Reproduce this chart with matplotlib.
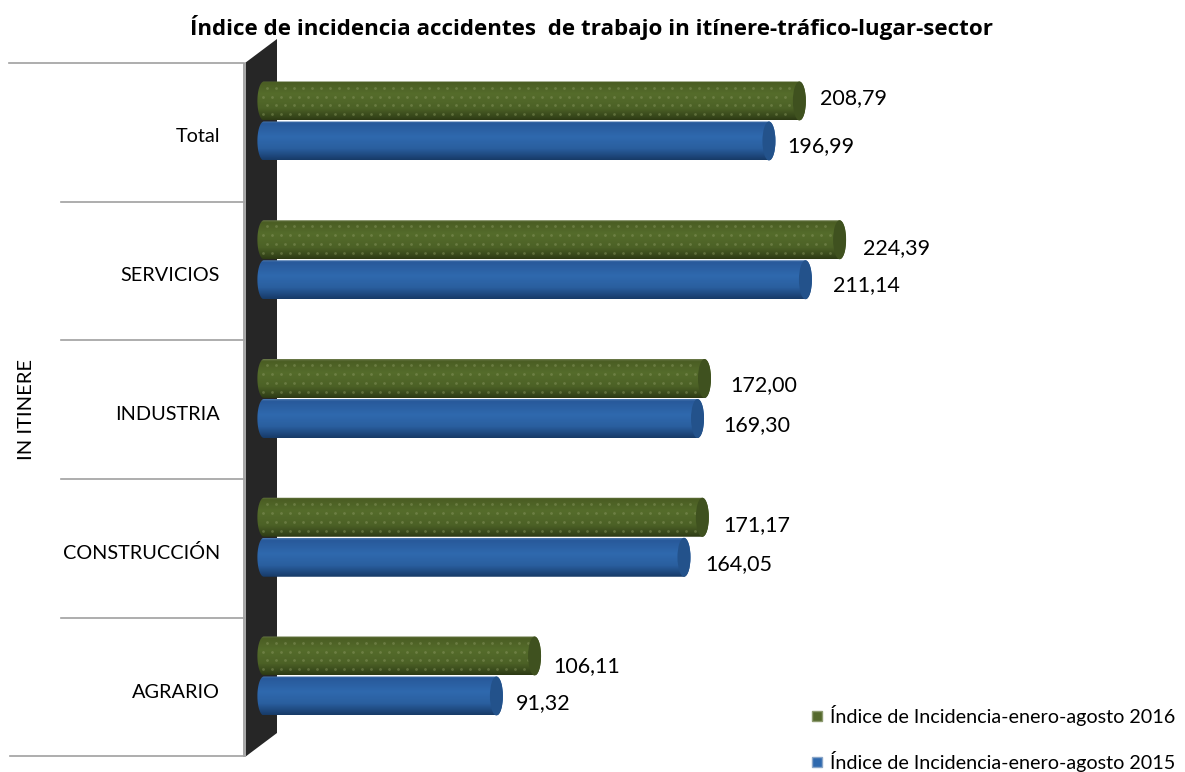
import numpy as np
import matplotlib
matplotlib.use('Agg')
import matplotlib.pyplot as plt
from matplotlib.colors import LinearSegmentedColormap
from matplotlib.patches import Polygon, Ellipse, Rectangle

plt.rcParams['font.family'] = ['Lato', 'DejaVu Sans']

# data
categories = ['AGRARIO', 'CONSTRUCCIÓN', 'INDUSTRIA', 'SERVICIOS', 'Total']
values_2016 = [106.11, 171.17, 172.00, 224.39, 208.79]
values_2015 = [91.32, 164.05, 169.30, 211.14, 196.99]
legend_labels = ['Índice de Incidencia-enero-agosto 2016', 'Índice de Incidencia-enero-agosto 2015']
title = 'Índice de incidencia accidentes  de trabajo in itínere-tráfico-lugar-sector'

W, H = 1185, 772
SCALE = 2.579   # px per unit
ZERO = 267.4    # px of value 0
PITCH = 138.75  # px between groups
Y0 = 676        # px of first group centre

# label nudges in px
dx_2016 = [12, 14, 19, 17, 14]
dy_2016 = [10, 8, 7, 8, -3]
dx_2015 = [13, 15, 19, 21, 12]
dy_2015 = [7, 7, 7, 5, 5]

green_cmap = LinearSegmentedColormap.from_list('g', [(0, '#6f7d4e'), (0.05, '#4a5d23'), (0.35, '#556c2b'),
                                                     (0.7, '#4c6126'), (0.92, '#36461a'), (1, '#2c3914')])
blue_cmap = LinearSegmentedColormap.from_list('b', [(0, '#4f7cb3'), (0.05, '#28599a'), (0.4, '#2f69ae'),
                                                    (0.7, '#2a5f9f'), (0.92, '#1c4477'), (1, '#173a66')])

fig = plt.figure(figsize=(W / 100, H / 100), dpi=100)

# pixel axes for the wall, lines and text
bg = fig.add_axes([0, 0, 1, 1])
bg.set_xlim(0, W)
bg.set_ylim(H, 0)
bg.axis('off')

bg.add_patch(Polygon([(245, 63), (277, 39), (277, 733), (245, 757)], closed=True, fc='#262626', ec='none'))
bg.add_patch(Rectangle((243, 63), 2.5, 694, fc='#a8a8a8', ec='none'))
bg.plot([9, 244], [63, 63], color='#a0a0a0', lw=1.2)
bg.plot([10, 244], [756, 756], color='#a0a0a0', lw=1.2)
for ypix in [201.5, 340, 479, 617.5]:
    bg.plot([61, 244], [ypix, ypix], color='#a0a0a0', lw=1.2)

# value axes
ax = fig.add_axes([0, 0, 1, 1], facecolor='none')
ax.axis('off')
xlim = (-ZERO / SCALE, (W - ZERO) / SCALE)
ylim = ((Y0 - H) / PITCH, Y0 / PITCH)


def cylinder(y, val, cmap, cap_color, dots=False):
    h = 39 / PITCH
    rx = 6.5 / SCALE
    left = -10 / SCALE
    t = np.linspace(-np.pi / 2, np.pi / 2, 40)
    lx = left + rx - rx * np.cos(t)
    ly = y + h / 2 * np.sin(t)
    rxs = val - rx + rx * np.cos(t[::-1])
    rys = y + h / 2 * np.sin(t[::-1])
    pts = np.column_stack([np.r_[lx, rxs], np.r_[ly, rys]])
    shape = Polygon(pts, closed=True, fc='none', ec='none', zorder=2)
    ax.add_patch(shape)
    grad = np.linspace(0, 1, 200).reshape(-1, 1)
    im = ax.imshow(grad, cmap=cmap, aspect='auto', origin='upper', zorder=1,
                   extent=(left, val, y - h / 2, y + h / 2))
    im.set_clip_path(shape)
    if dots:
        xs, ys = [], []
        for r in range(4):
            yy = y + h / 2 - (r + 0.7) * h / 4.4
            xx = np.arange(left + (2.0 if r % 2 else 3.7), val - 2 * rx, 9 / SCALE)
            xs.extend(xx)
            ys.extend([yy] * len(xx))
        dot = ax.scatter(xs, ys, s=4, color='#8c9a63', alpha=0.45, linewidths=0, zorder=3)
        dot.set_clip_path(shape)
    ax.add_patch(Ellipse((val - rx, y), 2 * rx, h, fc=cap_color, ec='none', zorder=4))


for i, cat in enumerate(categories):
    cylinder(i + 20 / PITCH, values_2016[i], green_cmap, '#3f511f', dots=True)
    cylinder(i - 20 / PITCH, values_2015[i], blue_cmap, '#23528b')
    ax.annotate(f'{values_2016[i]:.2f}'.replace('.', ','), (values_2016[i], i + 20 / PITCH),
                xytext=(dx_2016[i] * 0.72, -dy_2016[i] * 0.72), textcoords='offset points',
                ha='left', va='center', fontsize=15.5, color='black')
    ax.annotate(f'{values_2015[i]:.2f}'.replace('.', ','), (values_2015[i], i - 20 / PITCH),
                xytext=(dx_2015[i] * 0.72, -dy_2015[i] * 0.72), textcoords='offset points',
                ha='left', va='center', fontsize=15.5, color='black')
    bg.text(220, Y0 - PITCH * i + 16, cat, ha='right', va='center', fontsize=14.3, color='black')

ax.set_xlim(xlim)
ax.set_ylim(ylim)

bg.text(27, 409, 'IN ITINERE', rotation=90, ha='center', va='center', fontsize=14.5, color='black')
bg.text(591.5, 27, title, ha='center', va='center', fontsize=16.1, fontweight='bold', color='black',
        family=['Open Sans', 'DejaVu Sans'])

# legend
bg.add_patch(Rectangle((812, 711), 10, 10, fc='#55692c', ec='#8d9a70', lw=1))
bg.add_patch(Rectangle((812, 757), 10, 10, fc='#2f69ae', ec='#8aa6c8', lw=1))
bg.text(830, 716, legend_labels[0], ha='left', va='center', fontsize=14.2, color='black')
bg.text(830, 762, legend_labels[1], ha='left', va='center', fontsize=14.2, color='black')

plt.savefig('out.png', dpi=100)
